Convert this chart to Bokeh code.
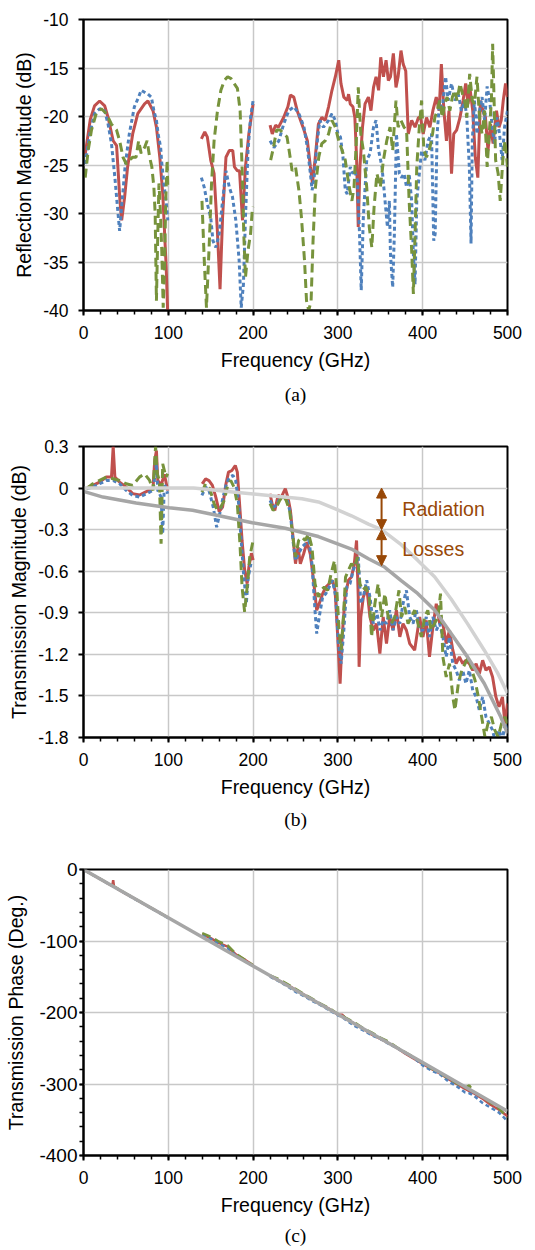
import numpy as np
from bokeh.plotting import figure
from bokeh.layouts import column
from bokeh.models import (Range1d, FixedTicker, CustomJSTickFormatter, Title,
                          Arrow, NormalHead)
from bokeh.core.properties import value
from bokeh.embed import file_html
from bokeh.resources import INLINE

nan = float("nan")

# ---------------- (a) Reflection magnitude (dB) ----------------
a_red_f = [2, 8, 13, 19, 25, 29, 35, 39, 43, 45, 48.5, 52, 58, 64, 72, 76, 82, 86, 90, 93.5, 97.5, 99.4, nan,
           139, 143, 146, 150, 154, 158, 161, 164, 168, 172, 176, 178, 181.5, 184, 187.5, 191, 195, 200, nan,
           220, 222.6, 226.5, 230, 236, 241, 244, 248, 252, 256, 260, 264, 267.6, 270, 273, 277, 281, 285, 289,
           293, 297, 301, 303.6, 307, 311, 312.6, 314.6, 317.7, 320, 322, 324, 326, 329, 332, 336, 339, 342,
           345, 348, 350.5, 353.7, 356.8, 359.5, 362, 365.4, 368.5, 371, 374.4, 377, 380, 383, 387, 391, 395,
           397.5, 400.6, 404.5, 408.5, 412, 416, 419.4, 422, 425, 428, 431, 434, 436.6, 440, 444, 447.6, 450.7,
           453.4, 456, 459, 462, 465, 468, 471, 474, 477, 480, 483, 487, 490, 492.6, 495, 497.7, 500]
a_red_v = [-23.9, -20.3, -18.9, -18.4, -18.9, -20.1, -22.5, -23.0, -28.7, -30.7, -28.3, -25.2, -21.8, -19.7,
           -18.7, -18.4, -19.4, -21.1, -24.2, -28.0, -35.5, -40.5, nan,
           -22.3, -21.6, -22.1, -24.5, -25.9, -32.0, -37.8, -30.4, -24.2, -23.5, -23.5, -25.2, -25.6, -25.6,
           -30.7, -25.2, -21.8, -18.7, nan,
           -20.9, -21.8, -20.9, -21.1, -20.1, -19.0, -17.8, -18.0, -19.4, -20.4, -21.4, -22.5, -25.2, -26.9,
           -24.5, -20.8, -20.1, -20.4, -19.0, -17.3, -15.9, -14.2, -16.6, -18.0, -18.35, -17.7, -18.7, -19.0,
           -20.1, -24.2, -31.4, -25.2, -21.1, -18.7, -18.0, -19.4, -17.0, -15.9, -17.3, -13.9, -15.9, -14.2,
           -16.3, -15.9, -13.5, -17.0, -15.9, -13.2, -14.6, -15.3, -21.8, -20.4, -21.1, -20.1, -20.1, -21.8,
           -20.1, -21.1, -19.4, -18.0, -19.4, -14.6, -19.4, -22.5, -19.4, -25.9, -21.8, -21.4, -20.1, -18.35,
           -16.6, -18.7, -17.3, -19.4, -24.2, -26.3, -18.35, -19.4, -20.1, -23.5, -20.8, -22.8, -19.4, -21.1,
           -20.4, -18.35, -16.6, -18.0]

a_blue_f = [2, 7.4, 13, 19, 25, 29, 33, 37, 40, 42.6, 45, 49, 54, 60, 65, 68, 72, 76, 80, 83, 86, 88, 91, 92,
            94.7, 97.4, 99.4, nan,
            139, 142.4, 146, 150, 152.6, 156, 160, 164, 168, 172, 175.7, 179.6, 183.5, 186, 188.6, 191, 194,
            197, 200, nan,
            220, 224.6, 230.4, 236, 242, 248, 254, 260, 264, 267.6, 269.6, 272, 275.4, 278.6, 283, 289, 293,
            297, 300, 303, 306, 308.7, 311, 314.6, 317.7, 320, 323, 325.5, 327.5, 330, 334, 338, 342, 345, 348,
            352, 355.6, 358.4, 360.7, 362, 364.6, 366.6, 369, 372.5, 375, 378, 381, 384, 387, 389, 391, 393,
            396, 398.7, 402.6, 406.5, 410.4, 413, 414.7, 417, 420, 423, 427, 430, 434, 438, 442, 445.6, 449.5,
            452, 455, 457, 458.5, 461, 464, 467, 470, 473, 476, 479, 482, 484.7, 487.5, 490.6, 493.7, 496.5, 500]
a_blue_v = [-24.9, -21.8, -19.7, -19.2, -19.4, -20.8, -22.8, -26.3, -29.3, -31.8, -29.3, -25.2, -21.8, -19.0,
            -18.0, -17.3, -17.5, -17.7, -18.0, -19.4, -20.4, -21.8, -23.2, -24.5, -26.9, -28.7, -30.7, nan,
            -26.3, -27.3, -29.0, -30.4, -32.8, -33.5, -32.1, -28.7, -25.6, -27.3, -28.3, -30.7, -34.8, -39.7,
            -37.3, -30.4, -23.5, -20.1, -18.35, nan,
            -22.5, -23.2, -22.5, -20.8, -19.4, -19.0, -19.7, -21.1, -23.2, -25.9, -27.6, -26.3, -22.8, -20.4,
            -21.1, -20.4, -19.7, -20.4, -21.8, -22.1, -24.2, -27.6, -28.0, -25.2, -25.9, -25.6, -26.6, -32.1,
            -37.9, -30.4, -24.5, -23.8, -21.1, -20.4, -23.5, -25.2, -28.7, -31.4, -28.7, -34.2, -37.6, -32.1,
            -21.8, -25.9, -26.3, -25.9, -27.3, -25.9, -28.7, -34.2, -37.3, -28.7, -25.9, -23.5, -24.5, -22.5,
            -21.8, -32.8, -32.1, -21.8, -18.35, -19.4, -15.9, -18.35, -16.6, -18.35, -17.7, -19.4, -18.35,
            -20.1, -25.2, -33.1, -22.5, -18.35, -21.8, -19.4, -18.0, -20.4, -16.9, -18.35, -21.1, -22.8, -20.1,
            -21.8, -24.5, -21.1, -19.4]

a_green_f = [2, 5.5, 9.4, 15, 21, 27, 33, 39, 42.6, 46.6, 50.5, 54, 58, 62, 65, 68, 72, 75, 78, 80.6, 83, 84.5,
             86, 87.6, 89, 90.8, 92.3, 94, 95.5, 97, 98.6, 99.4, nan,
             139.7, 142.4, 145, 148, 151, 154, 158, 162, 166, 170, 174, 177.6, 181.5, 184.7, 187.4, 189, 191,
             194, 197, 199, 200, nan,
             220.7, 224, 227.7, 232, 236, 240, 243, 246, 250, 254, 257, 260.6, 263, 265.6, 268.4, 270.7, 273.5,
             277.4, 281, 285, 289, 293, 297, 301, 305, 308.7, 312.6, 316.5, 319, 321.6, 324, 327, 330, 334,
             337, 340, 342.7, 346, 350, 353.7, 357.6, 361.5, 364.6, 368.5, 371, 374.4, 378, 381, 384, 387, 389,
             391, 393, 396, 398.7, 401.4, 404.5, 408.5, 411.6, 414.3, 417, 420, 423, 426, 428.8, 432, 435,
             437.8, 440.5, 444, 447, 449.5, 452, 455.4, 458.5, 461, 464, 467, 470, 473, 476, 478, 481, 482.5,
             484, 486, 489, 491.4, 494.5, 497, 500]
a_green_v = [-26.3, -23.5, -21.4, -19.7, -19.2, -19.7, -20.8, -21.4, -22.5, -24.2, -24.9, -24.5, -24.2, -24.2,
             -22.5, -23.8, -23.2, -22.5, -24.2, -25.2, -27.3, -30.0, -39.0, -32.1, -26.9, -30.0, -33.8, -39.7,
             -35.5, -28.7, -24.5, -27.3, nan,
             -28.7, -34.8, -39.7, -33.8, -26.9, -22.5, -19.4, -17.3, -16.3, -15.9, -16.1, -16.6, -17.1, -19.4,
             -26.3, -32.1, -36.6, -33.8, -32.1, -29.7, -29.3, nan,
             -24.5, -23.2, -21.4, -21.4, -21.8, -22.1, -23.8, -25.6, -25.2, -27.6, -30.4, -34.8, -39.0, -40.0,
             -39.0, -32.8, -27.3, -24.2, -22.8, -22.5, -21.8, -20.4, -21.1, -22.5, -23.5, -24.5, -26.9, -28.7,
             -27.3, -22.8, -17.0, -21.8, -23.5, -27.3, -31.4, -33.5, -29.3, -25.9, -27.3, -24.5, -22.5, -21.1,
             -23.5, -18.35, -21.1, -20.4, -21.1, -21.4, -28.7, -33.8, -38.3, -32.1, -25.2, -21.1, -18.35,
             -23.5, -24.2, -23.2, -21.8, -20.1, -19.4, -18.35, -20.1, -18.7, -18.0, -19.4, -18.0, -17.3, -18.35,
             -16.6, -17.7, -18.35, -20.1, -15.6, -18.35, -18.7, -15.9, -20.1, -21.8, -19.4, -25.2, -22.5,
             -18.35, -12.5, -17.7, -24.5, -25.9, -28.7, -24.5, -22.5, -25.2]

# ---------------- (b) Transmission magnitude (dB) ----------------
b_red_f = [5.5, 11, 19, 27, 33, 35, 37, 42.6, 50.4, 58, 66, 74, 82, 84, 86, 87.6, 91.5, 95.4, 99.3, nan,
           140, 144, 148, 152, 156, 160, 164, 168, 171, 175, 179, 181.4, 184, 187, 190, 193, 195, 198, 200, nan,
           220, 222.4, 225.6, 229.5, 233.4, 236, 238, 241, 244, 246.7, 250, 253, 255.7, 259.6, 263.5, 267.4,
           271.3, 275, 278, 282, 285.8, 289.7, 293.6, 296.7, 299.8, 302.6, 305, 308.4, 312.4, 316, 319.4, 322,
           324, 325, 327, 330, 334, 337.8, 341.7, 345.6, 349.5, 353.4, 357.3, 361, 365, 369, 373, 376.8, 380.8,
           384.7, 390.5, 396.4, 400.3, 404.2, 408, 412, 416, 420, 423.8, 427.7, 431.6, 435.5, 439.4, 443.3,
           447.2, 451, 455, 459, 463, 466.8, 470.7, 474.6, 478.5, 482.4, 486.3, 490, 494, 497, 500]
b_red_v = [0.007, 0.02, 0.043, 0.08, 0.08, 0.3, 0.08, 0.043, 0.007, -0.04, -0.05, -0.026, 0.0, 0.2, 0.27, 0.055,
           0.02, 0.1, -0.017, nan,
           0.03, 0.066, 0.054, 0.019, -0.065, -0.17, -0.137, 0.03, 0.115, 0.127, 0.163, 0.115, -0.11, -0.38,
           -0.59, -0.69, -0.57, -0.47, -0.52, nan,
           -0.041, -0.113, -0.161, -0.053, -0.065, -0.029, -0.005, -0.065, -0.161, -0.33, -0.546, -0.426,
           -0.546, -0.474, -0.39, -0.474, -0.666, -0.882, -0.834, -0.762, -0.714, -0.69, -0.666, -0.738, -1.074,
           -1.411, -1.074, -0.786, -0.666, -0.642, -0.546, -0.378, -0.786, -1.29, -0.93, -0.786, -0.714, -0.93,
           -1.026, -0.978, -1.194, -0.93, -1.122, -0.93, -1.026, -0.882, -1.074, -0.978, -1.026, -1.122, -1.17,
           -0.93, -1.074, -0.954, -1.218, -1.002, -0.834, -0.978, -0.978, -1.122, -1.026, -1.17, -1.267,
           -1.218, -1.267, -1.243, -1.267, -1.315, -1.267, -1.339, -1.243, -1.315, -1.291, -1.363, -1.507,
           -1.579, -1.507, -1.699, -1.555]

b_blue_f = [3.5, 11, 19, 27, 35, 42.6, 50.4, 58, 66, 74, 82, 86, 87.6, 91.5, 93.4, 95.4, 99.3, nan,
            139.6, 144, 148, 153, 157, 160.7, 164.6, 168.5, 172.4, 176.3, 179.4, 182.6, 185.7, 188.8, 192,
            194.3, 197.4, nan,
            220, 223.6, 227.5, 231.4, 236, 240, 244, 247, 250, 253.7, 257.6, 261.5, 265.4, 269.4, 273, 275, 278,
            282, 285.8, 289.7, 293.6, 297.5, 300.6, 303.8, 307, 310.4, 314.3, 318, 321, 324, 327, 330, 334,
            337.8, 341.7, 345.6, 349.5, 353.4, 357.3, 361, 365, 369, 373, 376.8, 380.8, 384.7, 388.6, 392.5,
            396.4, 400.3, 404.2, 408, 412, 416, 420, 423.8, 427.7, 431.6, 435.5, 439.4, 443.3, 447.2, 451, 455,
            459, 463, 466.8, 470.7, 474.6, 478.5, 482.4, 486.3, 490, 494, 497, 500]
b_blue_v = [-0.005, 0.007, 0.031, 0.055, 0.055, 0.031, -0.017, -0.053, -0.065, -0.041, -0.017, 0.175, -0.017,
            -0.065, -0.33, 0.031, -0.041, nan,
            -0.053, 0.007, -0.017, -0.137, -0.282, -0.185, -0.065, 0.031, 0.079, 0.091, 0.055, -0.089, -0.354,
            -0.618, -0.834, -0.642, -0.546, nan,
            -0.089, -0.137, -0.125, -0.077, -0.065, -0.077, -0.185, -0.378, -0.522, -0.474, -0.426, -0.402,
            -0.354, -0.546, -0.882, -1.05, -0.93, -0.786, -0.762, -0.714, -0.666, -0.786, -1.122, -1.267,
            -1.026, -0.714, -0.69, -0.594, -0.546, -0.498, -0.834, -0.786, -0.666, -0.786, -0.978, -0.882,
            -1.026, -0.954, -0.978, -0.882, -1.026, -0.93, -0.978, -0.834, -0.738, -0.93, -0.978, -0.882,
            -1.026, -1.026, -0.93, -1.074, -0.93, -1.026, -0.978, -1.074, -1.218, -1.074, -1.267, -1.315,
            -1.387, -1.315, -1.411, -1.315, -1.459, -1.507, -1.603, -1.507, -1.651, -1.699, -1.747, -1.85,
            -1.747, -1.82, -1.699, -1.747]

b_green_f = [3.5, 11, 19, 27, 35, 42.6, 50.4, 58, 66, 72, 78, 82, 85, 87, 89.5, 91.5, 93.4, 97.3, 99.3, nan,
             139.6, 144, 149, 154, 158, 162, 166, 170, 173.6, 177.5, 181.4, 184.5, 187, 190, 193, 196, 200, nan,
             220, 223.6, 227.5, 231.4, 235.3, 239, 243, 247, 250, 253.7, 257.6, 261.5, 265.4, 269.4, 273, 277,
             280, 284, 288, 292, 296, 298.7, 301.4, 303.8, 306.5, 309, 312.4, 316, 320, 323, 326, 329, 333, 337,
             339.7, 343.6, 347.5, 351.5, 355.4, 359.3, 363, 367, 372, 375, 378.8, 382.7, 386.6, 390.5, 394.4,
             398.4, 402.3, 406, 410, 414, 418, 421, 423.8, 427.7, 431.6, 435.5, 438, 442, 446, 450, 454, 458,
             461.7, 465.6, 469.5, 473.4, 477, 481, 485, 489, 493, 497, 500]
b_green_v = [-0.005, 0.031, 0.055, 0.079, 0.067, 0.055, 0.031, 0.019, 0.079, 0.103, 0.055, -0.017, 0.3, 0.103,
             0.055, -0.402, 0.175, 0.079, 0.103, nan,
             -0.029, 0.031, -0.005, -0.113, -0.161, -0.137, -0.089, 0.019, 0.055, 0.007, -0.113, -0.402, -0.714,
             -0.894, -0.714, -0.498, -0.378, nan,
             -0.113, -0.161, -0.137, -0.089, -0.053, -0.089, -0.161, -0.354, -0.498, -0.378, -0.354, -0.378,
             -0.33, -0.426, -0.69, -0.786, -0.738, -0.714, -0.738, -0.618, -0.522, -0.738, -1.026, -1.17, -0.93,
             -0.642, -0.594, -0.546, -0.57, -0.498, -0.69, -0.738, -0.714, -0.786, -1.074, -0.834, -0.69, -0.93,
             -0.762, -0.93, -0.978, -0.93, -0.738, -0.93, -0.858, -0.978, -0.93, -0.882, -0.978, -1.074, -0.93,
             -0.882, -1.026, -0.978, -0.93, -0.762, -1.218, -1.363, -1.267, -1.507, -1.603, -1.411, -1.315,
             -1.267, -1.218, -1.315, -1.387, -1.507, -1.651, -1.795, -1.699, -1.651, -1.747, -1.795, -1.699,
             -1.651, -1.699]

b_total_f = [0, 50, 100, 130, 179, 218.5, 257.6, 277, 297, 316, 336, 351.5, 375, 394, 414, 433.5, 453, 472.6,
             488, 500]
b_total_v = [0.0, 0.0, 0.0, 0.0, -0.03, -0.053, -0.077, -0.1, -0.15, -0.2, -0.26, -0.3, -0.41, -0.52, -0.64,
             -0.8, -0.98, -1.17, -1.33, -1.48]
b_loss_f = [0, 23, 62, 101, 128.6, 160, 199, 238, 277, 316, 336, 355, 375, 394, 414, 433.5, 453, 472.6, 492, 500]
b_loss_v = [-0.024, -0.065, -0.108, -0.142, -0.16, -0.2, -0.25, -0.29, -0.35, -0.44, -0.51, -0.57, -0.67, -0.76,
            -0.88, -1.05, -1.22, -1.41, -1.65, -1.77]

b_arrow_f = 351.5
b_arrow_levels = [0.0, -0.3, -0.56]
b_notes = ["Radiation", "Losses"]
b_notes_f = [376, 376]
b_notes_v = [-0.15, -0.44]

# ---------------- (c) Transmission phase (deg) ----------------
c_f1 = [3, 10, 20, 30, 34, 35, 36, 40, 50, 60, 70, 80, 90, 100]
c_f2 = [140, 150, 160, 170, 180, 190, 200]
c_f3 = [220, 230, 240, 250, 260, 270, 280, 290, 300, 305, 310, 320, 330, 340, 350, 360, 370, 380, 390, 400,
        410, 420, 430, 440, 450, 455, 460, 470, 480, 490, 500]
c_red_v = [-2, -7, -13.5, -20.5, -23, -15, -24, -27, -34, -40.5, -47.5, -54, -60.5, -67.5,
           -91, -96, -103, -108, -119, -126, -134,
           -149, -155, -161, -168, -175, -182, -189, -195, -203, -203, -209, -216, -223, -231, -237, -243,
           -250, -258, -265, -272, -279, -285, -293, -300, -307, -310, -313, -320, -329, -336, -345]
c_blue_v = [-2, -7, -13.5, -20.5, -23, -23.5, -24.5, -27, -34, -41, -47.5, -54.5, -61, -68,
            -92, -97, -104, -110, -121, -128, -135,
            -150, -156, -163, -171, -177, -184, -190, -197, -204, -206, -211, -219, -225, -232, -237, -244,
            -250, -257, -264, -274, -281, -286, -296, -303, -312, -313, -316, -326, -333, -340, -352]
c_green_v = [-2, -7, -13.5, -20, -22.5, -23, -24, -26.5, -33.5, -40.5, -47, -54, -60.5, -67.5,
             -89, -94, -101, -106, -118, -126, -134,
             -148, -153, -160, -167, -174, -181, -188, -194, -202, -204, -208, -214, -222, -228, -235, -241,
             -249, -256, -263, -271, -278, -284, -292, -299, -305, -302, -311, -318, -326, -334, -347]
c_gray_f = [0, 100, 200, 300, 400, 500]
c_gray_v = [0, -67.5, -135, -202.5, -270, -338]

x_ticks = [0, 100, 200, 300, 400, 500]
a_ticks = [-40, -35, -30, -25, -20, -15, -10]
b_ticks = [-1.8, -1.5, -1.2, -0.9, -0.6, -0.3, 0.0, 0.3]
c_ticks = [-400, -300, -200, -100, 0]

RED, BLUE, GREEN = "#C0504D", "#4F81BD", "#77933C"
LIGHT, DARK = "#D2D2D2", "#A6A6A6"
BROWN = "#984807"
SANS = "Liberation Sans"
W = 530
BLUE_DASH = "4 3"
GREEN_DASH = "9 5"


def join_c(vals):
    return c_f1 + [nan] + c_f2 + [nan] + c_f3, vals[:14] + [nan] + vals[14:21] + [nan] + vals[21:]


def make_fig(h, left, right, top, bottom, yr, yticks, ylabel, fmt, yminor, caption, cap_standoff,
             ylab_standoff, ytick_standoff, ytick_out, ytick_font):
    p = figure(width=W, height=h, x_range=Range1d(0, 500), y_range=Range1d(*yr),
               output_backend="svg", toolbar_location=None,
               min_border_left=left, min_border_right=right, min_border_top=top, min_border_bottom=bottom,
               background_fill_color="white", border_fill_color="white")
    p.outline_line_color = "black"
    p.outline_line_width = 2
    p.outline_line_alpha = 1
    p.xaxis.ticker = FixedTicker(ticks=x_ticks, minor_ticks=list(range(0, 501, 20)))
    p.yaxis.ticker = FixedTicker(ticks=yticks, minor_ticks=yminor)
    p.yaxis.formatter = CustomJSTickFormatter(code=fmt)
    p.xaxis.formatter = CustomJSTickFormatter(code="return tick.toFixed(0);")
    for ax in (p.xaxis[0], p.yaxis[0]):
        ax.axis_line_color = "black"
        ax.axis_line_width = 2
        ax.major_tick_line_color = "black"
        ax.major_tick_line_width = 2
        ax.major_tick_in = 0
        ax.major_tick_out = 5
        ax.minor_tick_line_color = "black"
        ax.minor_tick_line_width = 1.5
        ax.minor_tick_in = 0
        ax.minor_tick_out = 4
        ax.major_label_text_font = SANS
        ax.major_label_text_font_size = "17.5px"
        ax.major_label_text_color = "black"
        ax.axis_label_text_font = SANS
        ax.axis_label_text_font_size = "19.5px"
        ax.axis_label_text_font_style = "normal"
        ax.axis_label_text_color = "black"
    p.yaxis.major_tick_out = ytick_out
    p.yaxis.major_label_text_font_size = ytick_font
    p.xaxis.axis_label = "Frequency (GHz)"
    p.yaxis.axis_label = ylabel
    p.xaxis.major_label_standoff = 10
    p.yaxis.major_label_standoff = ytick_standoff
    p.xaxis.axis_label_standoff = 7
    p.yaxis.axis_label_standoff = ylab_standoff
    for g in (p.xgrid[0], p.ygrid[0]):
        g.grid_line_color = "#C8C8C8"
        g.grid_line_width = 1.5
    p.add_layout(Title(text=caption, align="center", text_font="Liberation Serif", text_font_size="19.5px",
                       text_font_style="normal", text_color="black", standoff=cap_standoff), "below")
    return p


INT_FMT = "return tick.toFixed(0);"
DEC_FMT = "const v = Math.round(tick*10)/10; return Math.abs(v) < 1e-9 ? '0' : v.toFixed(1);"

# (a)
pa = make_fig(425, 82, W - 508, 19, 115, (-40, -10), a_ticks, "Reflection Magnitude (dB)", INT_FMT, [],
              "(a)", 16, 5, 10, 5, "17.5px")
pa.line(a_red_f, a_red_v, line_color=RED, line_width=3)
pa.line(a_blue_f, a_blue_v, line_color=BLUE, line_width=3, line_dash=BLUE_DASH)
pa.line(a_green_f, a_green_v, line_color=GREEN, line_width=3, line_dash=GREEN_DASH)

# (b)
pb = make_fig(410, 80, W - 507, 21, 98, (-1.8, 0.3), b_ticks, "Transmission Magnitude (dB)", DEC_FMT, [],
              "(b)", 12, 5, 10, 5, "17.5px")
pb.line(b_red_f, b_red_v, line_color=RED, line_width=3)
pb.line(b_blue_f, b_blue_v, line_color=BLUE, line_width=3, line_dash=BLUE_DASH)
pb.line(b_green_f, b_green_v, line_color=GREEN, line_width=3, line_dash=GREEN_DASH)
pb.line(b_total_f, b_total_v, line_color=LIGHT, line_width=3.5)
pb.line(b_loss_f, b_loss_v, line_color=DARK, line_width=3.5)
for i in range(2):
    pb.add_layout(Arrow(x_start=b_arrow_f, y_start=b_arrow_levels[i], x_end=b_arrow_f, y_end=b_arrow_levels[i + 1],
                        line_color=BROWN, line_width=2,
                        start=NormalHead(size=10, fill_color=BROWN, line_color=BROWN),
                        end=NormalHead(size=10, fill_color=BROWN, line_color=BROWN)))
pb.text(x=b_notes_f, y=b_notes_v, text=b_notes, text_font=value(SANS), text_font_size="19.5px",
        text_color=BROWN, text_align="left", text_baseline="middle")

# (c)
pc = make_fig(415, 83, W - 507, 34, 92, (-400, 0), c_ticks, "Transmission Phase (Deg.)", INT_FMT,
              list(range(-400, 1, 20)), "(c)", 9, 9, 2, 4, "19px")
for vals, col, dash in ((c_red_v, RED, "solid"), (c_blue_v, BLUE, BLUE_DASH), (c_green_v, GREEN, GREEN_DASH)):
    fx, fy = join_c(vals)
    pc.line(fx, fy, line_color=col, line_width=2.5, line_dash=dash)
pc.line(c_gray_f, c_gray_v, line_color=DARK, line_width=3.5)

layout = column(pa, pb, pc, spacing=0)
open("out.html", "w").write(file_html(layout, INLINE))
